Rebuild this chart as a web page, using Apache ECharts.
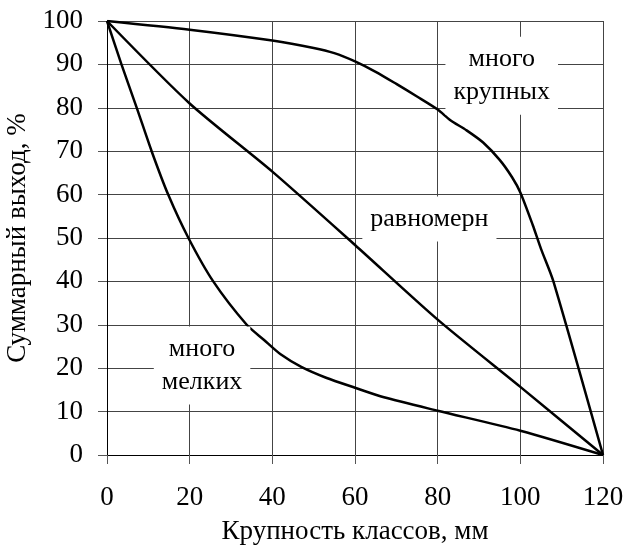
<!DOCTYPE html>
<html>
<head>
<meta charset="utf-8">
<script src="https://cdn.jsdelivr.net/npm/echarts@6/dist/echarts.min.js"></script>
<style>
  html, body { margin: 0; padding: 0; background: #fff; }
  #chart { width: 627px; height: 547px; }
</style>
</head>
<body>
<div id="chart"></div>
<script>
// данные кривых (крупность, мм / суммарный выход, %)
var coarse = [[0,100],[20,98],[40,95.5],[50,93.8],[55,92.6],[60,90.7],[65,88.3],[70,85.5],[75,82.6],[80,79.6],[83,77.2],[87,74.8],[91,72],[95,68],[98,64],[100,60.5],[103,53],[105,47.5],[108,40],[120,0]];
var uniform = [[0,100],[20,81],[40,65.3],[60,48.4],[80,31.2],[100,15.7],[120,0]];
var fine = [[0,100],[3.5,90],[7.2,80],[10.8,70],[14.8,60],[19.7,50],[25.7,40],[33.8,30],[38,26.5],[42,23.2],[47,20.3],[53,17.8],[60,15.5],[67,13.3],[80,10.2],[100,5.6],[120,0]];

// подписи кривых
var notes = [
  { value: [95.5, 87.4], text: 'много\nкрупных' },
  { value: [78, 54.4], text: 'равномерн' },
  { value: [23, 20.6], text: 'много\nмелких' }
];

var font = 'Liberation Serif';
var myChart = echarts.init(document.getElementById('chart'));

function curve(name, data) {
  return {
    name: name,
    type: 'line',
    data: data,
    smooth: 0.25,
    symbol: 'none',
    z: 3,
    lineStyle: { color: '#000', width: 2.5 }
  };
}

var option = {
  animation: false,
  backgroundColor: '#fff',
  grid: { left: 107, right: 24, top: 21, bottom: 92, outerBoundsMode: 'none' },
  xAxis: {
    type: 'value',
    min: 0, max: 120, interval: 20,
    name: 'Крупность классов, мм',
    nameLocation: 'middle',
    nameGap: 63,
    nameTextStyle: { fontFamily: font, fontSize: 27, color: '#000' },
    axisLine: { lineStyle: { color: '#000', width: 1 } },
    axisTick: { length: 9, lineStyle: { color: '#555' } },
    axisLabel: { fontFamily: font, fontSize: 27, color: '#000', margin: 29 },
    splitLine: { show: true, lineStyle: { color: '#444', width: 1 } }
  },
  yAxis: {
    type: 'value',
    min: 0, max: 100, interval: 10,
    name: 'Суммарный выход, %',
    nameLocation: 'middle',
    nameGap: 66,
    nameTextStyle: { fontFamily: font, fontSize: 27, color: '#000' },
    axisLine: { lineStyle: { color: '#000', width: 1 } },
    axisTick: { length: 9, lineStyle: { color: '#555' } },
    axisLabel: { fontFamily: font, fontSize: 27, color: '#000', margin: 24 },
    splitLine: { show: true, lineStyle: { color: '#444', width: 1 } }
  },
  series: [
    curve('много крупных', coarse),
    curve('равномерн', uniform),
    curve('много мелких', fine),
    {
      name: 'подписи',
      type: 'scatter',
      symbolSize: 0,
      z: 4,
      itemStyle: { opacity: 1 },
      data: notes.map(function (n) { return { value: n.value, name: n.text }; }),
      label: {
        show: true,
        position: 'inside',
        formatter: function (p) { return p.name; },
        fontFamily: font,
        fontSize: 26,
        lineHeight: 33,
        color: '#000',
        opacity: 1,
        backgroundColor: '#fff',
        padding: [6, 8]
      }
    }
  ]
};

myChart.setOption(option);
</script>
</body>
</html>
